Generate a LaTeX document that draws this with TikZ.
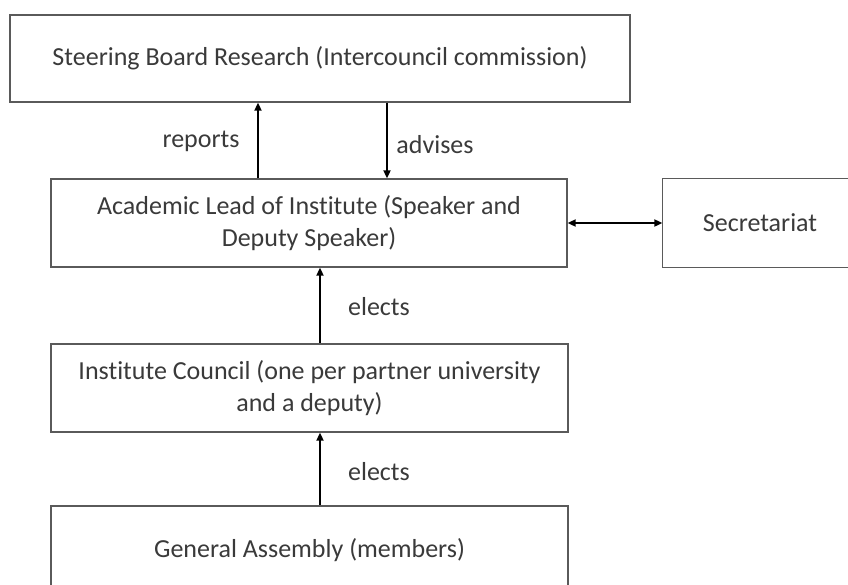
\documentclass[tikz,border=0pt]{standalone}
\usepackage{fontspec}
\setmainfont[Ligatures=NoCommon]{Carlito}
\usetikzlibrary{arrows.meta}
\definecolor{boxline}{HTML}{5A5A5A}
\definecolor{txt}{HTML}{3A3A3A}
\tikzset{
  orgbox/.style={draw=boxline, line width=1.3pt, fill=white, align=center,
    text=txt, inner sep=0pt, font=\fontsize{26}{31.5}\selectfont},
  lbl/.style={text=txt, inner sep=0pt, font=\fontsize{26}{31.5}\selectfont},
  conn/.style={line width=1.8pt, -{Triangle[width=7pt,length=8pt]}},
  dconn/.style={line width=1.8pt, {Triangle[width=7pt,length=8pt]}-{Triangle[width=7pt,length=8pt]}}
}
\begin{document}
\begin{tikzpicture}[x=1pt,y=-1pt]
\useasboundingbox (0,0) rectangle (848,584);
\begin{scope}
\clip (0,0) rectangle (848,584);
\node[orgbox, minimum width=620pt, minimum height=87pt] (sb) at (320,58.5)
  {Steering Board Research (Intercouncil commission)};
\node[orgbox, minimum width=516pt, minimum height=88pt] (al) at (309,223)
  {Academic Lead of Institute (Speaker and\\ Deputy Speaker)};
\node[orgbox, draw=none, minimum width=194pt, minimum height=88pt] (sec) at (760,223)
  {Secretariat};
\draw[boxline, line width=1.3pt] (sec.north east) ++(30,0) -- (sec.north west)
  -- (sec.south west) -- ++(224,0);
\node[orgbox, minimum width=517pt, minimum height=88pt] (ic) at (309.5,388)
  {Institute Council (one per partner university\\ and a deputy)};
\node[orgbox, minimum width=517pt, minimum height=88pt] (ga) at (309.5,550)
  {General Assembly (members)};
\end{scope}
\coordinate (rx) at (258,0);
\coordinate (ax) at (387,0);
\coordinate (ex) at (320,0);
\draw[conn] (al.north -| rx) -- (sb.south -| rx);
\draw[conn] (sb.south -| ax) -- (al.north -| ax);
\draw[conn] (ic.north -| ex) -- (al.south -| ex);
\draw[conn] (ga.north -| ex) -- (ic.south -| ex);
\draw[dconn] (al.east) -- (sec.west);
\node[lbl] (lrep) at (201,141) {reports};
\node[lbl] (ladv) at (435,145) {advises};
\node[lbl] (lel1) at (379,307) {elects};
\node[lbl] (lel2) at (379,472) {elects};
\end{tikzpicture}
\end{document}
